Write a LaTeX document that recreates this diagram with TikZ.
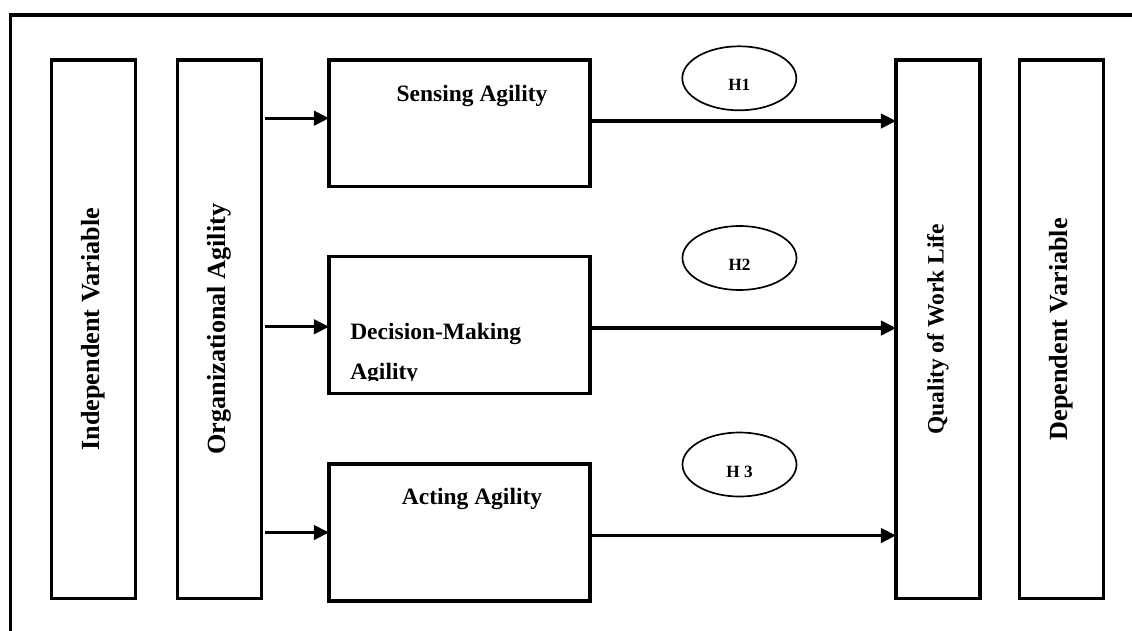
\documentclass[tikz,border=0pt]{standalone}
\usepackage{fontspec}
\usepackage{graphicx}
\setmainfont{Liberation Serif}
\usetikzlibrary{positioning,calc,arrows.meta,shapes.geometric}
\tikzset{
    tallbox/.style={draw, line width=2.3pt, minimum width=2.1cm, minimum height=13.46cm, inner sep=0pt, outer sep=0pt, font=\bfseries\fontsize{#1}{#1}\selectfont},
    tallbox/.default={18.6pt},
    midbox/.style={draw, line width=2.3pt, minimum width=6.525cm, minimum height=#1, inner sep=0pt, outer sep=0pt},
    midbox/.default={3.42cm},
    hyp/.style={draw, ellipse, line width=1.2pt, minimum width=2.85cm, minimum height=1.6cm, inner sep=0pt, text height=18pt, text depth=0pt, font=\bfseries\fontsize{12.2pt}{12.2pt}\selectfont},
    lbl/.style={inner sep=0pt, font=\bfseries\fontsize{16.7pt}{28.4pt}\selectfont},
    flow/.style={line width=2.3pt, -{Triangle[length=10.7pt, width=10.2pt]}}
}

\begin{document}
\begin{tikzpicture}[x=0.025cm, y=-0.025cm, node distance=1.76cm]
    \useasboundingbox (0,0) rectangle (1132,631);
    \draw[line width=2.4pt] (1140,15) -- (10.7,15) -- (10.7,640);
    \node[tallbox] (indep) at (93.7,329.2) {\rotatebox{90}{Independent Variable}};
    \node[tallbox, right=1.04cm of indep] (org) {\rotatebox{90}{Organizational Agility}};
    \node[tallbox=16.7pt] (qual) at (938,329.2) {\rotatebox{90}{Quality of Work Life}};
    \node[tallbox, right=0.98cm of qual] (dep) {\rotatebox{90}{Dependent Variable}};
    \node[midbox=3.16cm] (sense) at (459.5,123.2) {};
    \node[midbox, below=of sense] (dec) {};
    \node[midbox, below=of dec] (act) {};
    \node[lbl, anchor=base] (sensetxt) at (472,101.7) {Sensing Agility};
    \begin{scope}
        \clip (dec.north west) rectangle ($(dec.south east)+(0,-13.3)$);
        \node[lbl, anchor=north west, align=left] (dectxt) at (350,323) {Decision-Making\\Agility};
    \end{scope}
    \node[lbl, anchor=base] (acttxt) at (472,504) {Acting Agility};
    \node[hyp] (h1) at (739.3,78.3) {H1};
    \node[hyp] (h2) at (739.5,258) {H2};
    \node[hyp] (h3) at (739.5,464.5) {H 3};
    \coordinate (in1) at ($(org.east |- sense.west)+(4,-5)$);
    \coordinate (in2) at ($(org.east |- dec.west)+(4,1.5)$);
    \coordinate (in3) at ($(org.east |- act.west)+(4,0)$);
    \coordinate (out1) at ($(sense.east)+(0,-2.2)$);
    \coordinate (out2) at ($(dec.east)+(0,2.8)$);
    \coordinate (out3) at ($(act.east)+(0,3)$);
    \draw[flow] (in1) -- (in1 -| sense.west);
    \draw[flow] (in2) -- (in2 -| dec.west);
    \draw[flow] (in3) -- (in3 -| act.west);
    \draw[flow] (out1) -- (out1 -| qual.west);
    \draw[flow] (out2) -- (out2 -| qual.west);
    \draw[flow] (out3) -- (out3 -| qual.west);
\end{tikzpicture}
\end{document}
